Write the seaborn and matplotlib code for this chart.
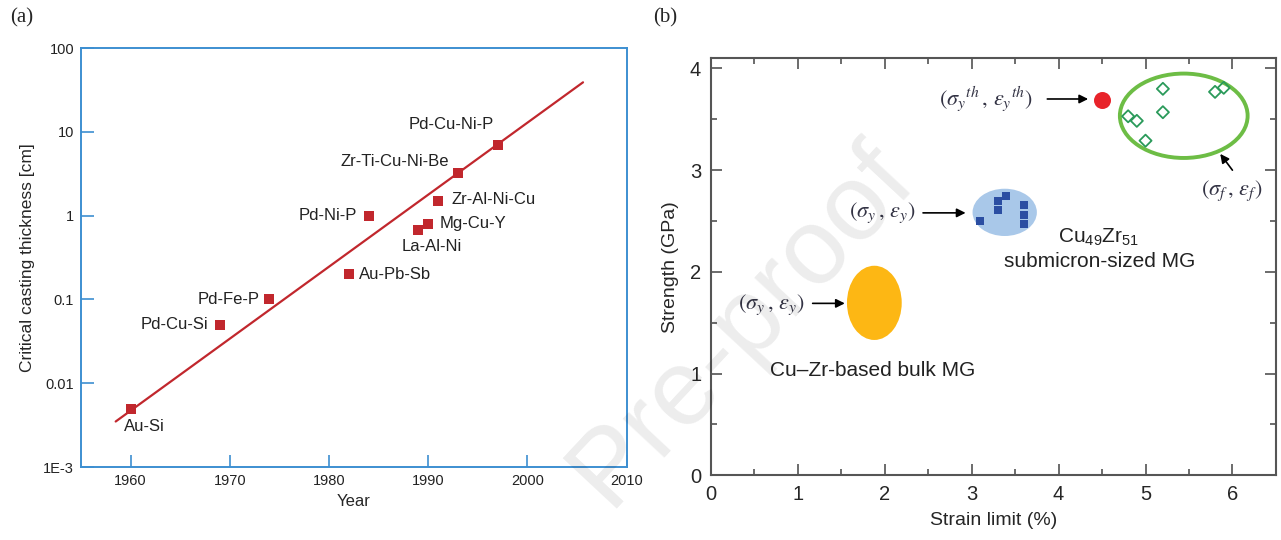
import matplotlib
matplotlib.use("Agg")
import matplotlib.pyplot as plt
from matplotlib.patches import Ellipse
from matplotlib.ticker import MultipleLocator
import seaborn as sns

# ---- panel (a): critical casting thickness vs year ----
alloys = ["Au-Si", "Pd-Cu-Si", "Pd-Fe-P", "Au-Pb-Sb", "Pd-Ni-P", "La-Al-Ni",
          "Mg-Cu-Y", "Zr-Al-Ni-Cu", "Zr-Ti-Cu-Ni-Be", "Pd-Cu-Ni-P"]
years = [1960, 1969, 1974, 1982, 1984, 1989, 1990, 1991, 1993, 1997]
thickness = [0.005, 0.05, 0.1, 0.2, 1.0, 0.68, 0.8, 1.5, 3.2, 7.0]
trend_years = [1958.5, 2005.6]
trend_thickness = [0.0035, 39.0]
year_ticks = [1960, 1970, 1980, 1990, 2000, 2010]
thick_ticks = [0.001, 0.01, 0.1, 1, 10, 100]
thick_labels = ["1E-3", "0.01", "0.1", "1", "10", "100"]

# ---- panel (b): strength vs strain limit ----
bulk_center = [1.88, 1.695]        # strain, strength
bulk_size = [0.63, 0.73]
sub_center = [3.38, 2.585]
sub_size = [0.74, 0.465]
sub_strain = [3.10, 3.30, 3.30, 3.40, 3.60, 3.60, 3.60]
sub_strength = [2.50, 2.70, 2.61, 2.75, 2.66, 2.56, 2.47]
ideal_strain = [4.50]
ideal_strength = [3.69]
frac_center = [5.44, 3.535]
frac_size = [1.47, 0.83]
frac_strain = [4.80, 4.90, 5.00, 5.20, 5.20, 5.80, 5.90]
frac_strength = [3.53, 3.485, 3.29, 3.80, 3.57, 3.77, 3.81]

sns.set_style("ticks")
plt.rcParams["font.family"] = ["Liberation Sans", "DejaVu Sans"]
plt.rcParams["mathtext.fontset"] = "custom"
plt.rcParams["mathtext.rm"] = "Liberation Sans"
plt.rcParams["mathtext.it"] = "Liberation Sans:italic"

fig = plt.figure(figsize=(12.81, 5.4), dpi=100)

# ================= (a) =================
blue = "#3d8fd1"
red = "#c1272d"
ax1 = fig.add_axes([0.0632, 0.135, 0.426, 0.776])
sns.lineplot(x=trend_years, y=trend_thickness, ax=ax1, color=red, lw=1.6)
sns.scatterplot(x=years, y=thickness, ax=ax1, marker="s", s=55, color=red,
                edgecolor=red, linewidth=0, zorder=3)
ax1.set_yscale("log")
ax1.set_xlim(1955, 2010)
ax1.set_ylim(0.001, 100)
ax1.set_xticks(year_ticks)
ax1.set_yticks(thick_ticks, thick_labels)
ax1.minorticks_off()
ax1.tick_params(direction="in", length=9, width=1.2, color=blue,
                labelcolor="#222222", labelsize=10.5, pad=5)
for sp in ax1.spines.values():
    sp.set_color(blue)
    sp.set_linewidth(1.4)
ax1.set_xlabel("Year", fontsize=12, labelpad=4)
ax1.set_ylabel("Critical casting thickness [cm]", fontsize=12.5, labelpad=6)

# label placement (pixel offsets from each marker)
label_pos = {
    "Au-Si": (14, -18, "center"), "Pd-Cu-Si": (-12, 0, "right"),
    "Pd-Fe-P": (-10, 0, "right"), "Au-Pb-Sb": (10, 0, "left"),
    "Pd-Ni-P": (-12, 0, "right"), "La-Al-Ni": (13, -17, "center"),
    "Mg-Cu-Y": (11, 0, "left"), "Zr-Al-Ni-Cu": (13, 1, "left"),
    "Zr-Ti-Cu-Ni-Be": (-9, 12, "right"), "Pd-Cu-Ni-P": (-46, 20, "center"),
}
for name, xv, yv in zip(alloys, years, thickness):
    dx, dy, ha = label_pos[name]
    ax1.annotate(name, (xv, yv), xytext=(dx, dy), textcoords="offset pixels",
                 ha=ha, va="center", fontsize=12, color="#222222")

# ================= (b) =================
ax2 = fig.add_axes([0.555, 0.120, 0.441, 0.772])
ax2.add_patch(Ellipse(bulk_center, bulk_size[0], bulk_size[1],
                      facecolor="#fdb714", edgecolor="none", zorder=1))
ax2.add_patch(Ellipse(sub_center, sub_size[0], sub_size[1],
                      facecolor="#a9c8e9", edgecolor="none", zorder=1))
ax2.add_patch(Ellipse(frac_center, frac_size[0], frac_size[1],
                      facecolor="none", edgecolor="#6dbd45", lw=2.8, zorder=1))
sns.scatterplot(x=sub_strain, y=sub_strength, ax=ax2, marker="s", s=28,
                color="#2b4ea2", edgecolor="#2b4ea2", linewidth=0, zorder=3)
sns.scatterplot(x=ideal_strain, y=ideal_strength, ax=ax2, marker="o", s=150,
                color="#e8232a", edgecolor="#e8232a", linewidth=0, zorder=3)
sns.scatterplot(x=frac_strain, y=frac_strength, ax=ax2, marker="D", s=38,
                color="none", edgecolor="#2a9a5a", linewidth=1.3, zorder=3)

ax2.set_xlim(0, 6.5)
ax2.set_ylim(0, 4.1)
ax2.xaxis.set_major_locator(MultipleLocator(1))
ax2.xaxis.set_minor_locator(MultipleLocator(0.5))
ax2.yaxis.set_major_locator(MultipleLocator(1))
ax2.yaxis.set_minor_locator(MultipleLocator(0.5))
ax2.tick_params(which="both", direction="in", top=True, right=True,
                color="#444444", width=1.1)
ax2.tick_params(which="major", length=8, labelsize=14.5, pad=7)
ax2.tick_params(which="minor", length=4)
for sp in ax2.spines.values():
    sp.set_color("#555555")
    sp.set_linewidth(1.5)
ax2.set_xlabel("Strain limit (%)", fontsize=14, labelpad=6)
ax2.set_ylabel("Strength (GPa)", fontsize=14, labelpad=8)

ann_color = "#333344"
arrow = dict(arrowstyle="-|>", color="black", lw=1.2, mutation_scale=13,
             shrinkA=0, shrinkB=0)
ax2.text(3.16, 3.70, r"$(\sigma_y{}^{th}\,,\,\varepsilon_y{}^{th})$",
         ha="center", va="center", fontsize=16, color=ann_color,
         math_fontfamily="stix")
ax2.annotate("", xy=(4.34, 3.70), xytext=(3.87, 3.70), arrowprops=arrow)
ax2.text(1.97, 2.58, r"$(\sigma_y\,,\,\varepsilon_y)$", ha="center", va="center",
         fontsize=16, color=ann_color, math_fontfamily="stix")
ax2.annotate("", xy=(2.93, 2.58), xytext=(2.44, 2.58), arrowprops=arrow)
ax2.text(0.69, 1.68, r"$(\sigma_y\,,\,\varepsilon_y)$", ha="center", va="center",
         fontsize=16, color=ann_color, math_fontfamily="stix")
ax2.annotate("", xy=(1.54, 1.69), xytext=(1.17, 1.69), arrowprops=arrow)
ax2.text(5.99, 2.80, r"$(\sigma_f\,,\,\varepsilon_f)$", ha="center", va="center",
         fontsize=16, color=ann_color, math_fontfamily="stix")
ax2.annotate("", xy=(5.86, 3.16), xytext=(6.0, 3.0), arrowprops=arrow)

ax2.text(4.46, 2.34, r"Cu$_{49}$Zr$_{51}$", ha="center", va="center",
         fontsize=15, color="#222222")
ax2.text(4.47, 2.10, "submicron-sized MG", ha="center", va="center",
         fontsize=15, color="#222222")
ax2.text(1.86, 1.03, "Cu\u2013Zr-based bulk MG", ha="center", va="center",
         fontsize=15, color="#222222")

# panel letters
fig.text(10 / 1281, 1 - 18 / 540, "(a)", fontsize=15, va="center",
         family=["Liberation Serif", "DejaVu Serif"])
fig.text(653 / 1281, 1 - 18 / 540, "(b)", fontsize=15, va="center",
         family=["Liberation Serif", "DejaVu Serif"])

# watermark
fig.text(742 / 1281, 1 - 325 / 540, "Pre-proof", fontsize=78, rotation=47,
         ha="center", va="center", color="black", alpha=0.075, zorder=10)

fig.savefig("out.png", dpi=100)
